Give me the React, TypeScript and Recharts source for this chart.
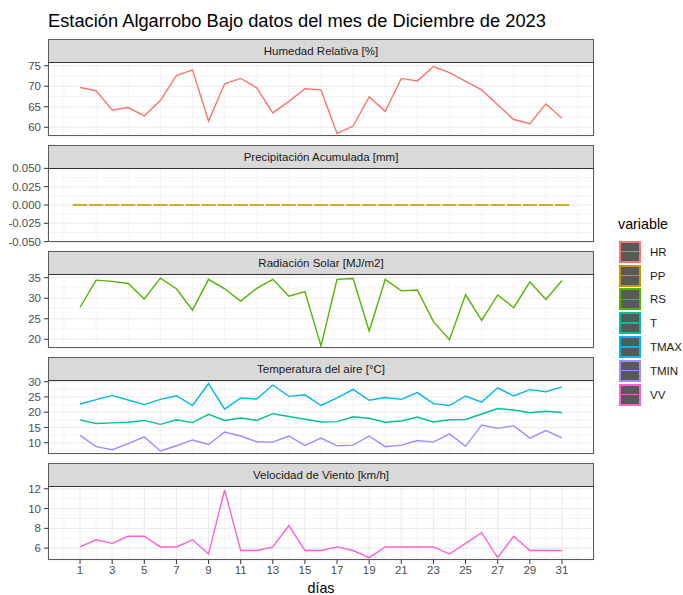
import React from 'react';
import { ComposedChart, Line, XAxis, YAxis, CartesianGrid, ReferenceLine } from 'recharts';

const FONT = '"Liberation Sans", Arial, Helvetica, sans-serif';

// daily values, December 2023
const days = [1, 2, 3, 4, 5, 6, 7, 8, 9, 10, 11, 12, 13, 14, 15, 16, 17, 18, 19, 20, 21, 22, 23, 24, 25, 26, 27, 28, 29, 30, 31];
const hr = [69.7, 68.9, 64.2, 64.8, 62.8, 66.5, 72.6, 74.0, 61.5, 70.6, 71.9, 69.6, 63.5, 66.3, 69.4, 69.1, 58.5, 60.3, 67.4, 63.9, 71.9, 71.3, 74.8, 73.3, 71.2, 69.1, 65.5, 61.9, 60.9, 65.7, 62.2];
const pp = [0, 0, 0, 0, 0, 0, 0, 0, 0, 0, 0, 0, 0, 0, 0, 0, 0, 0, 0, 0, 0, 0, 0, 0, 0, 0, 0, 0, 0, 0, 0];
const rs = [27.8, 34.4, 34.1, 33.6, 29.8, 34.9, 32.3, 27.1, 34.6, 32.3, 29.3, 32.4, 34.6, 30.5, 31.6, 18.4, 34.6, 34.8, 22.0, 34.6, 31.8, 32.0, 24.3, 19.9, 30.9, 24.6, 30.8, 27.7, 34.0, 29.7, 34.3];
const tMean = [17.5, 16.3, 16.5, 16.7, 17.3, 16.0, 17.5, 16.6, 19.3, 17.3, 18.1, 17.3, 19.5, 18.6, 17.7, 16.8, 16.9, 18.5, 18.0, 16.7, 17.1, 18.4, 16.8, 17.5, 17.6, 19.4, 21.2, 20.7, 19.8, 20.3, 19.9];
const tMax = [22.7, 24.1, 25.5, 24.0, 22.5, 24.2, 25.4, 22.2, 29.4, 21.0, 24.7, 24.3, 28.9, 25.2, 25.7, 22.2, 24.7, 27.5, 23.9, 24.8, 24.2, 26.4, 22.8, 22.2, 25.3, 23.3, 28.0, 25.3, 27.4, 26.7, 28.3];
const tMin = [12.4, 8.7, 7.7, 9.7, 11.9, 7.3, 9.0, 10.9, 9.4, 13.5, 12.2, 10.3, 10.2, 12.2, 9.1, 11.5, 9.0, 9.2, 12.2, 8.7, 9.2, 10.7, 10.2, 12.9, 8.8, 15.8, 14.7, 15.6, 11.5, 14.0, 11.6];
const vv = [6.12, 6.84, 6.48, 7.2, 7.2, 6.12, 6.12, 6.84, 5.4, 11.88, 5.76, 5.76, 6.12, 8.28, 5.76, 5.76, 6.12, 5.76, 5.04, 6.12, 6.12, 6.12, 6.12, 5.4, 6.48, 7.56, 5.04, 7.2, 5.76, 5.76, 5.76];

// axis ticks
const xTicks = [1, 3, 5, 7, 9, 11, 13, 15, 17, 19, 21, 23, 25, 27, 29, 31];
const xMinor = [0, 2, 4, 6, 8, 10, 12, 14, 16, 18, 20, 22, 24, 26, 28, 30, 32];
const hrTicks = [60, 65, 70, 75];
const hrMinor = [62.5, 67.5, 72.5];
const ppTicks = [-0.05, -0.025, 0, 0.025, 0.05];
const ppMinor = [-0.0375, -0.0125, 0.0125, 0.0375];
const rsTicks = [20, 25, 30, 35];
const rsMinor = [22.5, 27.5, 32.5];
const tTicks = [10, 15, 20, 25, 30];
const tMinor = [7.5, 12.5, 17.5, 22.5, 27.5];
const vvTicks = [6, 8, 10, 12];
const vvMinor = [5, 7, 9, 11];

const legendItems = [
  { name: 'HR', color: '#F8766D' },
  { name: 'PP', color: '#C49A00' },
  { name: 'RS', color: '#53B400' },
  { name: 'T', color: '#00C094' },
  { name: 'TMAX', color: '#00B6EB' },
  { name: 'TMIN', color: '#A58AFF' },
  { name: 'VV', color: '#FB61D7' },
];

const data = days.map((day, i) => ({
  day,
  HR: hr[i],
  PP: pp[i],
  RS: rs[i],
  T: tMean[i],
  TMAX: tMax[i],
  TMIN: tMin[i],
  VV: vv[i],
}));

const PLOT_LEFT = 48;
const PLOT_RIGHT = 594;
const PLOT_W = PLOT_RIGHT - PLOT_LEFT;
const X_DOMAIN = [-0.995, 32.995];
const STRIP_H = 23;
const PLOT_H = 74;
const PAD = 8; // room above/below the plot so edge tick labels are not clipped

const panels = [
  { title: 'Humedad Relativa [%]', top: 39, domain: [57.88, 75.9], ticks: hrTicks, minor: hrMinor, lines: ['HR'] },
  { title: 'Precipitación Acumulada [mm]', top: 145, domain: [-0.0505, 0.0505], ticks: ppTicks, minor: ppMinor, lines: [], bars: 'PP' },
  { title: 'Radiación Solar [MJ/m2]', top: 251, domain: [17.88, 35.9], ticks: rsTicks, minor: rsMinor, lines: ['RS'] },
  { title: 'Temperatura del aire [°C]', top: 357, domain: [6.3, 30.55], ticks: tTicks, minor: tMinor, lines: ['T', 'TMAX', 'TMIN'] },
  { title: 'Velocidad de Viento [km/h]', top: 463, domain: [4.8, 12.28], ticks: vvTicks, minor: vvMinor, lines: ['VV'] },
];

const colorOf = (k: string) => legendItems.find(l => l.name === k)!.color;

function Panel({ p, last }: { p: any; last: boolean }) {
  const plotTop = p.top + STRIP_H;
  const xh = last ? 30 : 0;
  const halfBar = (0.45 * PLOT_W) / (X_DOMAIN[1] - X_DOMAIN[0]);
  const fmt = p.bars ? (v: number) => v.toFixed(3) : (v: number) => String(v);

  return (
    <>
      <div style={{ position: 'absolute', left: 0, top: plotTop - PAD, width: 683 }}>
        <ComposedChart width={683} height={PLOT_H + xh + 2 * PAD} data={data} margin={{ top: PAD, right: 683 - PLOT_RIGHT, bottom: PAD, left: 0 }}>
          <CartesianGrid stroke="#EBEBEB" strokeWidth={1.1} />
          {xMinor.map(v => <ReferenceLine key={'x' + v} x={v} stroke="#F0F0F0" strokeWidth={0.8} />)}
          {p.minor.map((v: number) => <ReferenceLine key={'y' + v} y={v} stroke="#F0F0F0" strokeWidth={0.8} />)}
          <XAxis
            dataKey="day"
            type="number"
            domain={X_DOMAIN}
            ticks={xTicks}
            interval={0}
            allowDataOverflow
            height={xh}
            axisLine={false}
            tick={last ? { fontSize: 11.5, fill: '#4D4D4D', fontFamily: FONT } : false}
            tickLine={last ? { stroke: '#333333' } : false}
            tickSize={4}
            tickMargin={2}
          />
          <YAxis
            type="number"
            domain={p.domain}
            ticks={p.ticks}
            interval={0}
            allowDataOverflow
            width={PLOT_LEFT}
            axisLine={false}
            tick={{ fontSize: 11.5, fill: '#4D4D4D', fontFamily: FONT }}
            tickLine={{ stroke: '#333333' }}
            tickSize={4}
            tickMargin={3}
            tickFormatter={fmt}
          />
          {p.lines.map((k: string) => (
            <Line key={k} dataKey={k} type="linear" stroke={colorOf(k)} strokeWidth={1.4} dot={false} isAnimationActive={false} />
          ))}
          {p.bars && (
            <Line
              dataKey={p.bars}
              stroke="none"
              isAnimationActive={false}
              dot={(d: any) => (
                <line key={d.index} x1={d.cx - halfBar} x2={d.cx + halfBar} y1={d.cy} y2={d.cy} stroke={colorOf(p.bars)} strokeWidth={1.6} />
              )}
            />
          )}
        </ComposedChart>
      </div>
      <div
        style={{
          position: 'absolute', left: PLOT_LEFT, top: p.top, width: PLOT_W, height: STRIP_H + 1,
          boxSizing: 'border-box', background: '#D9D9D9', border: '1px solid #5a5a5a', borderBottom: '1px solid #333',
          fontFamily: FONT, fontSize: 11.5, color: '#1A1A1A', textAlign: 'center', lineHeight: STRIP_H - 1 + 'px',
        }}
      >
        {p.title}
      </div>
      <div
        style={{
          position: 'absolute', left: PLOT_LEFT, top: plotTop, width: PLOT_W, height: PLOT_H,
          boxSizing: 'border-box', border: '1px solid #5a5a5a', borderTop: '1px solid #333', pointerEvents: 'none',
        }}
      />
    </>
  );
}

export default function App() {
  return (
    <div style={{ position: 'absolute', left: 0, top: 0, width: 683, height: 595, background: '#fff', fontFamily: FONT }}>
      <div style={{ position: 'absolute', left: 48, top: 9.5, fontSize: 18.3, color: '#000', whiteSpace: 'nowrap' }}>
        Estación Algarrobo Bajo datos del mes de Diciembre de 2023
      </div>
      {panels.map((p, i) => <Panel key={p.title} p={p} last={i === panels.length - 1} />)}
      <div style={{ position: 'absolute', left: PLOT_LEFT, width: PLOT_W, top: 580, textAlign: 'center', fontSize: 14.3, color: '#000' }}>
        días
      </div>
      <div style={{ position: 'absolute', left: 618, top: 216, fontSize: 14.3, color: '#000' }}>variable</div>
      {legendItems.map((l, i) => (
        <div key={l.name} style={{ position: 'absolute', left: 619, top: 240.7 + i * 23.8, height: 22, display: 'flex', alignItems: 'center' }}>
          <div style={{ position: 'relative', width: 22, height: 22, boxSizing: 'border-box', background: '#595959', border: `2px solid ${l.color}` }}>
            <div style={{ position: 'absolute', left: 0, right: 0, top: 8.3, height: 1.4, background: l.color }} />
          </div>
          <span style={{ marginLeft: 9, fontSize: 11.5, color: '#1A1A1A' }}>{l.name}</span>
        </div>
      ))}
    </div>
  );
}
